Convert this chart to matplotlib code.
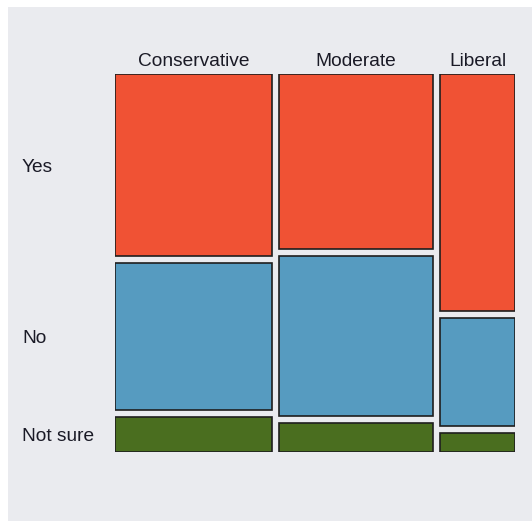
import numpy as np
import matplotlib.pyplot as plt
import matplotlib.transforms as mtransforms
from matplotlib.patches import Rectangle

# Mosaic plot: response share by political leaning
columns = ["Conservative", "Moderate", "Liberal"]
col_share = [0.406, 0.40, 0.194]
responses = ["Yes", "No", "Not sure"]
yes_share = [0.50, 0.48, 0.65]
no_share = [0.404, 0.44, 0.297]
notsure_share = [0.096, 0.08, 0.053]

colors = ["#f05234", "#569bc0", "#4a6e1f"]
edge = "#1e1e1e"
text_color = "#1a1a26"

W, H = 532, 521
fig = plt.figure(figsize=(W / 100, H / 100), dpi=100)
fig.patch.set_facecolor("white")
fig.patches.append(Rectangle((8 / W, -0.1), 1.2, 1.1 - 7 / H, transform=fig.transFigure,
                             facecolor="#eaebef", edgecolor="none", zorder=-5))

left, right, top, bottom = 115, 515, 74, 452
ax = fig.add_axes([left / W, 1 - bottom / H, (right - left) / W, (bottom - top) / H])
ax.set_xlim(0, 1)
ax.set_ylim(0, 1)
ax.axis("off")

gx = 7 / (right - left)
gy = 7 / (bottom - top)
shares = np.array([yes_share, no_share, notsure_share]).T
widths = np.array(col_share) * (1 - gx * (len(columns) - 1))
label_tr = mtransforms.blended_transform_factory(fig.transFigure, ax.transData)
font = dict(fontsize=13.8, family="Liberation Sans", color=text_color)

x = 0.0
for j, col in enumerate(columns):
    w = widths[j]
    heights = shares[j] / shares[j].sum() * (1 - gy * (len(responses) - 1))
    y = 1.0
    for i, resp in enumerate(responses):
        h = heights[i]
        ax.add_patch(Rectangle((x, y - h), w, h, facecolor=colors[i], edgecolor=edge,
                               linewidth=1.2))
        if j == 0:
            ax.text(22 / W, y - h / 2, resp, transform=label_tr, va="center_baseline",
                    ha="left", clip_on=False, **font)
        y -= h + gy
    ax.annotate(col, (x + w / 2, 1), xytext=(0, 15), textcoords="offset pixels",
                ha="center", va="center_baseline", annotation_clip=False, **font)
    x += w + gx

plt.savefig("out.png", dpi=100, facecolor=fig.get_facecolor())
